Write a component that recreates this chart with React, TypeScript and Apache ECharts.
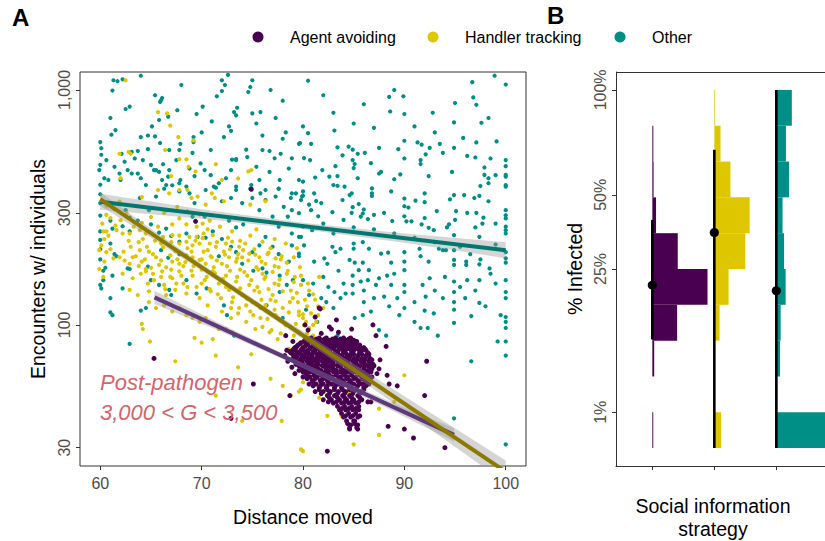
import React, { useEffect, useRef } from "react";
import * as echarts from "echarts";

// ---------- DATA ----------
const strategies = ["Agent avoiding", "Handler tracking", "Other"];
const distanceTicks = [60, 70, 80, 90, 100];
const encounterTicks = [30, 100, 300, 1000];
const infectedTicks = [1, 25, 50, 100];

// [distance moved, encounters]
const otherPoints: number[][] = [
  [61.3,1100],[61.7,1090],[62.2,1110],[61.2,995],[72.0,1100],[72.3,1050],[72.6,1160],[75.0,1100],[74.8,1030],[74.6,980],[76.8,1000],
  [65.4,950],[66.0,905],[66.1,925],[65.9,890],[71.5,940],[72.0,990],[70.1,850],[73.5,840],
  [62.5,830],[62.9,850],[61.0,760],[67.6,820],[69.5,790],[71.0,735],[73.2,805],[73.4,780],[75.0,795],[75.8,805],[77.3,760],[75.4,720],
  [65.8,745],[66.7,770],[65.1,700],
  [61.1,645],[61.5,675],[64.0,630],[64.7,640],[65.4,635],[69.2,630],[72.2,630],[72.9,670],[72.7,700],[78.3,660],[78.0,620],[79.6,590],
  [65.9,595],[67.9,590],[69.2,600],[60.1,565],[60.1,530],[62.1,535],[63.1,545],[63.7,550],[64.7,560],[66.8,555],[67.8,555],[69.1,540],[70.9,555],[73.0,505],[73.4,508],[74.4,557],[74.5,518],[76.0,555],[76.7,550],[77.2,512],[78.9,512],[77.8,535],
  [60.6,503],[61.4,471],[62.4,495],[63.4,511],[64.2,503],[65.0,480],[65.3,456],[66.2,483],[66.8,456],[66.7,428],[67.5,503],[68.8,463],[69.3,430],[69.9,487],[70.3,456],[70.9,434],[72.4,421],[72.9,456],[73.4,503],[75.4,471],[75.7,414],[76.7,448],[77.7,414],[78.6,463],[79.6,414],[59.9,456],[60.4,421],[60.8,414],[61.9,441],[62.7,456],[63.7,441],[64.0,421],[64.5,394],[65.8,448],[66.5,394],[67.8,401],[68.5,388],[71.2,388],[71.7,401],[73.4,388],[74.9,394],[76.3,375],[77.6,380],[78.9,363],[79.9,352],
  [60.0,330],[60.0,292],[61.0,278],[61.2,257],[61.0,222],[61.4,200],[62.2,263],[62.9,250],[63.7,278],[65.0,268],[65.8,247],[66.5,257],[67.0,239],[67.8,226],[66.0,208],[66.7,193],[67.8,200],[64.7,177],[62.7,174],[61.6,196],[63.9,347],[65.5,352],[66.3,380],[67.1,393],[67.9,414],[67.8,370],[68.8,363],[69.3,330],[70.4,375],[71.4,384],[72.0,336],[72.9,347],[73.4,375],[74.0,330],[74.8,380],[75.0,347],[75.8,363],[76.3,340],[77.3,352],[77.6,380],[78.8,347],[79.3,363],[79.8,340],[78.1,318],[78.9,308],[79.6,299],[75.7,308],[77.0,289],[78.5,289],[77.6,262],[78.9,245],[79.6,237],[76.3,237],[75.7,218],[75.0,204],[77.0,215],[77.6,200],[78.9,218],[79.6,201],[78.6,186],[72.7,278],[73.4,260],[74.1,268],[71.1,250],[70.4,235],[72.0,232],[72.9,215],[73.4,204],[71.7,196],[74.0,182],[76.0,174],[69.6,237],[68.5,245],[62.9,286],[62.5,308],[64.8,308],[66.5,308],[69.1,289],[70.3,289],[66.1,414],[65.5,456],[63.1,441],[62.0,414],
  [80.5,1095],[98.9,1150],[96.7,1080],[100,1055],[88.5,935],[89.9,940],[88.6,810],[90,790],[92.8,800],[96.8,930],[97.1,865],[97.6,725],[98.3,760],[94.9,728],[83.1,672],[80.5,655],[95.8,625],[79.7,595],[80.8,590],[83.4,570],[84.5,574],[84.9,557],[85.4,535],[86.1,540],[87.5,567],[89.4,560],[90,608],[91.3,598],[91.7,585],[92.5,567],[93.5,590],[94.9,567],[97.1,598],[99.1,604],[100,503],[83.9,527],[80.1,513],[80.7,503],[83.2,474],[84.9,503],[85.1,484],[85,465],[86.7,488],[87.5,441],[87.7,448],[90,511],[91.6,503],[91.6,484],[92.1,532],[93.8,540],[96.2,524],[97,516],[98.5,511],[97.9,468],[100,474],[100,435],[100,428],[100,394],[100,388],[97.9,435],[98.3,421],[99,434],[98.3,401],[97.5,390],[94.7,448],[92.4,430],[89.6,437],[88.7,370],[89,417],[81.9,456],[81.2,424],[82.6,428],[83.4,430],[84.1,388],[83,394],[83.4,391],[84.6,357],[84.8,363],[85.4,421],[86.8,381],[86.8,363],[86.8,354],[80,407],[80,370],[80,355],[81.1,363],[81.3,337],[81.8,330],[80.6,325],[80.8,308],[83.9,340],[82.9,302],[84.9,317],[84.8,300],[85.5,327],[85.9,298],[85.7,289],[86.4,282],[87,294],[90,345],[90,320],[90.4,316],[91.1,338],[92,363],[92,333],[93.2,305],[94.5,342],[94.9,357],[95.1,305],[96.2,300],[95.9,357],[96.9,347],[97.4,354],[97.1,300],[98.3,336],[100,308],[100,293],[100,284],[100,262],[100,253],[100,245],[97.8,286],[97.7,270],[88.8,277],[90.2,276],[90.7,276],[91.7,268],[92.4,259],[92.9,253],[94.2,260],[94.4,268],[94.9,241],[97.4,237],[93.8,208],[94.1,208],[94.9,208],[82.9,215],[83.2,204],[83.7,211],[85,222],[85,211],[85.9,225],[86.5,211],[87.7,201],[88.4,203],[88.7,184],[90,204],[90,186],[91.5,211],[91.6,196],[92.4,186],[93.4,211],[94.9,189],[94.9,180],[96.1,186],[96.1,180],[97.4,181],[100,204],[100,192],[100,184],[81.1,186],[82.1,192],[82.4,182],[84.6,189],[85.1,184],[85.9,184],[79.6,196],[80.1,218],[79.8,237],[80.9,253],[80,262],
  [80,155],[81,150],[80.6,134],[81.8,130],[82.3,125],[83.1,138],[83.7,130],[84.2,136],[84.9,162],[84.9,148],[84.9,136],[85.5,171],[85.7,153],[86.4,155],[86.5,171],[87.2,148],[87.5,158],[88,132],[88.3,162],[88.7,148],[89,165],[89.3,130],[90,171],[90,148],[90,138],[90,118],[91,103],[91.6,97],[92.3,97],[91.8,148],[92.1,132],[92.9,112],[92.5,158],[93.8,130],[93.3,90],[94.9,153],[94.9,138],[94.9,125],[94.9,116],[94.9,102],[96.2,155],[97.4,155],[97.4,124],[96.6,109],[98.4,174],[99.5,110],[100,155],[100,138],[100,130],[100,108],[100,103],[100,97],[100,85],[100,74],[99.2,85],[96.6,70],[94.9,40],[100,31],[87.5,95],[88.2,90],[85.1,107],[83.4,90],[85.9,110],[86.7,114],[83,118],[81.4,103],[80.3,116],
  [60,148],[60.1,143],[60.3,170],[61.2,162],[62.9,173],[62.2,143],[61,130],[61,113],[61.2,110],[62.9,83],[64,115],[64.5,118],[65,155],[65.8,148],[66.8,141],[67,134],[68.5,155],[69.5,136],[70.5,143],[72.2,121],[72.5,110],[73.2,90],[75.1,170],[76.4,167],[77.7,162],[79,155],[77.7,138],[76.4,121],[78.4,148],[79,85],[78,107],
  [60,600],[60,480],[60,395],[60,360],[60,250],[60,230],[60,210],[60,190],[60.5,175],[60.3,155],
  [82,160],[82.5,145],[83.5,170],[84,150],[86,140],[86,125],[87,130],[88.5,120],[89.5,110],[91,125],[92,115],[93,140],[94,160],[95.5,145],[96,130],[97,140],[98,120],[99,150],[98.5,165],[97.5,190],[96.5,200],[95.5,215],[93,225],[91,235],[89,245],[87,255],[85,260],[83,245],[82,270],[81.5,290],[84,280],[86,310],[88,300],[90,290],[92,285],[95,280],[97,260],[99,270],[99,220],
  [83,800],[85,720],[87,690],[91,700],[93,660],[95,880],[82,950],[86,870],[89,1000],[78,900],[68,1050],[64,1150],[70,660],[76,640],[80,700],
];

const handlerPoints: number[][] = [
  [62.5,1100],[65.7,805],[66.6,795],[66.9,705],[67.7,630],[69.2,610],[61.9,535],[62.8,545],[63.0,535],[66.4,555],[67.8,507],[68.5,507],[71.4,483],[74.6,450],[73.6,420],[62.0,421],[67.0,430],[68.7,471],[69.4,450],[65.7,375],[66.8,363],[67.8,375],[68.6,375],[64.1,350],[69.0,347],[69.6,352],[71.0,363],[71.3,347],[70.4,325],[72.2,336],[74.8,325],[76.3,336],[60.6,294],[62.0,279],[60.3,250],[60.6,250],[61.6,253],[62.2,245],[62.9,245],[63.9,253],[64.5,245],[65.7,262],[67.1,268],[67.8,284],[68.5,268],[69.5,262],[70.1,270],[70.6,255],[71.1,241],[68.8,237],[69.5,237],[70.1,234],[66.2,237],[67.1,241],[67.8,222],[68.5,226],[69.1,218],[69.8,222],[70.8,222],[71.4,215],[72.4,222],[73.0,226],[73.7,215],[74.3,222],[74.7,201],[74.0,194],[73.4,186],[72.7,194],[72.0,182],[71.0,194],[70.4,182],[69.8,189],[69.1,194],[68.5,198],[67.8,182],[67.1,186],[66.5,176],[65.5,194],[64.8,205],[63.9,208],[63.2,194],[62.9,182],[61.9,194],[61.3,192],[60.4,186],[59.9,208],[60.1,218],[60.6,204],[64.1,186],[64.5,173],[65.8,180],[75.7,194],[76.3,182],[77.3,192],[77.6,176],[75.4,176],[74.9,456],[72.0,414],
  [59.9,173],[60.3,160],[62.2,165],[63.2,158],[64.5,169],[64.7,150],[64.8,139],[65.3,155],[66.1,169],[66.3,148],[66.5,134],[67.1,158],[67.4,141],[67.8,169],[68.2,150],[68.5,136],[69.1,162],[69.5,145],[69.8,130],[70.3,155],[70.6,121],[70.9,139],[71.1,169],[71.7,150],[71.9,130],[72.0,114],[72.4,162],[72.7,141],[72.9,107],[73.0,125],[73.4,153],[73.7,118],[74.0,134],[74.4,103],[74.5,162],[74.7,148],[74.8,114],[75.0,125],[75.3,96],[75.7,138],[75.8,107],[76.2,157],[76.3,121],[76.7,93],[77.0,134],[77.3,110],[77.5,87],[77.6,148],[78.0,118],[78.3,99.6],[78.6,79],[79.0,130],[79.1,90],[79.6,110],[79.8,148],[69.3,88],[70.0,84],[71.1,87],[71.4,74],[73.6,66],[74.9,75],[75.6,82],[76.8,59],[78.0,55],[64.1,101],[64.2,96],[64.9,85],[67.4,70],[71.4,50],[74.0,39],[77.9,39],[79.8,29.5],[78.8,50],[79.6,52],[62.9,141],[63.7,134],[64.8,125],[65.5,118],[66.3,121],[67.1,114],[67.8,118],[68.5,110],[69.1,107],[69.8,103],[70.4,107],[71.1,101],[71.7,96],[72.4,96],[73.0,93],
  [79.6,114],[80,107],[80.1,99.6],[80.3,103],[80.6,97],[81.3,103],[81.6,160],[81.5,110],[80,84],[79.8,67],[80,57],[79.8,53],[81.6,49],[82.4,41],[85.1,78],[86.4,68],[90,61],[89,47],[87.5,44],[87.5,34],[85,31],[80,29],[83.8,41],[84.5,51],[80.5,86],[81.1,81],[81.8,73],
  [76.5,200],[77.8,190],[78.5,170],[79.2,160],[76.0,165],[77.2,150],[75.5,145],[78.8,140],[79.5,125],[76.8,128],[73.8,172],[72.5,178],[71.2,176],[70.0,172],[68.2,178],[66.9,160],[65.2,165],[63.8,178],[62.4,188],[61.0,210],[60.4,232],[62.8,228],[64.2,232],[66.0,222],[67.4,206],[69.0,205],[70.6,208],[72.2,205],[73.6,200],[75.2,210],[76.8,212],[80.6,140],[81.2,128],[80.4,120],[82.0,118],[81.0,90],
  [60.2,270],[61.0,285],[60.8,240],[61.5,265],
  [70.2,205],[70.9,196],[71.5,188],[72.3,199],[72.8,210],[73.5,192],[74.1,208],[74.6,188],[75.3,199],[75.9,186],[76.6,203],[77.2,178],[77.9,196],[78.4,184],[79.1,194],[79.7,176],
  [70.5,160],[71.3,166],[72.1,157],[72.8,170],[73.5,160],[74.2,168],[74.9,155],[75.6,172],[76.3,160],[77.0,168],[77.7,156],[78.4,165],[79.1,152],[79.8,162],
  [70.8,142],[71.6,135],[72.4,145],[73.1,131],[73.8,143],[74.5,129],[75.2,140],[75.9,128],[76.6,142],[77.3,126],[78.0,139],[78.7,125],[79.4,137],
  [72.9,118],[73.6,112],[74.4,121],[75.1,110],[75.8,118],[76.5,106],[77.2,116],[77.9,104],[78.6,113],[79.3,101],[80.0,111],
  [76.0,98],[76.9,95],[77.8,92],[78.9,97],[79.6,93],[80.4,92],[81.0,100],[80.8,112],[81.5,120],[81.0,135],[80.2,128],[80.5,150],
  [63.0,215],[63.8,225],[64.6,215],[65.4,228],[66.2,214],[67.0,225],[67.8,240],[68.6,212],[69.4,228],[70.2,245],
  [62.3,205],[63.5,196],[64.4,190],[65.2,200],[66.0,188],[66.9,198],[67.6,190],[68.4,185],[69.2,178],[70.0,190],
  [64.0,165],[65.0,175],[66.0,160],[67.0,172],[68.0,162],[69.0,170],[70.0,150],[68.6,145],[67.5,150],[66.4,142],
  [71.5,225],[72.6,235],[73.8,228],[74.8,240],[76.0,226],[77.2,232],[78.3,222],[79.4,212],[75.4,255],[73.0,250],[71.8,262],[70.8,278],[69.8,295],[68.6,305],[67.6,318],[66.3,300],[65.0,288],[64.1,272],[63.3,262],[62.6,298],[61.4,310],[60.6,322],[61.9,335],[63.6,320],
];

const agentPoints: number[][] = [
  [81.6,118],[83.3,105],[82.8,96],[86.9,100],[87.2,90],[88.2,81],[87.6,71],[88.3,61],[89.3,55],[88.5,56],[87.5,65],[87.3,62],[92.2,70],[92.0,50],[88.4,37],[90.0,36],[90.9,33],[94.0,30],[82.4,29],[80.3,88],[81.7,117],[86.2,78],[87.0,67],[86.7,47],[86.4,47],[85.4,36],[84.6,36],[85.1,39],[65.3,72],[78.7,50],[72.9,40],[75.1,56],[78.3,90],[79.0,85],[79.3,80],[74.9,378],[69.4,276],[80.5,95],[81.8,92],[82.6,98],[83.5,93],[80.2,100],[84.8,96],[81.2,108],
  [78.2,74],[78.5,70],[78.4,78],[78.9,66],[79.2,62],
  [80.8,88],[81.6,88],[82.3,88],[83.2,88],[84.0,88],[84.7,88],
  [80.5,87],[81.3,87],[82.1,87],[82.9,87],[83.7,87],[84.5,87],
  [80.2,86],[81.0,86],[81.8,86],[82.6,86],[83.4,86],[84.2,86],[85.0,86],
  [80.1,85],[80.9,85],[81.6,85],[82.4,85],[83.2,85],[84.0,85],[84.7,85],[85.3,85],
  [79.8,84],[80.5,84],[81.2,84],[82.0,84],[82.8,84],[83.6,84],[84.3,84],[85.1,84],
  [79.7,83],[80.5,83],[81.4,83],[82.2,83],[82.9,83],[83.7,83],[84.4,83],[85.2,83],
  [79.5,82],[80.3,82],[81.0,82],[81.8,82],[82.5,82],[83.3,82],[84.0,82],[84.8,82],[85.6,82],
  [79.4,81],[80.2,81],[81.0,81],[81.8,81],[82.5,81],[83.2,81],[84.0,81],[84.8,81],[85.6,81],
  [79.2,80],[80.0,80],[80.7,80],[81.4,80],[82.1,80],[82.9,80],[83.6,80],[84.4,80],[85.2,80],[86.0,80],
  [79.1,79],[79.9,79],[80.7,79],[81.5,79],[82.3,79],[83.0,79],[83.8,79],[84.6,79],[85.4,79],[86.1,79],
  [79.0,78],[79.8,78],[80.5,78],[81.2,78],[82.0,78],[82.7,78],[83.5,78],[84.2,78],[85.0,78],[85.8,78],
  [78.7,77],[79.4,77],[80.2,77],[81.0,77],[81.7,77],[82.4,77],[83.2,77],[84.0,77],[84.8,77],[85.6,77],
  [78.8,76],[79.6,76],[80.3,76],[81.0,76],[81.8,76],[82.5,76],[83.2,76],[84.0,76],[84.8,76],[85.6,76],[86.4,76],
  [79.0,75],[79.8,75],[80.6,75],[81.4,75],[82.1,75],[82.8,75],[83.5,75],[84.3,75],[85.0,75],[85.8,75],[86.5,75],
  [79.3,74],[80.1,74],[80.9,74],[81.6,74],[82.4,74],[83.1,74],[83.8,74],[84.6,74],[85.4,74],[86.2,74],
  [79.4,73],[80.2,73],[80.9,73],[81.7,73],[82.4,73],[83.1,73],[83.9,73],[84.6,73],[85.4,73],[86.2,73],
  [79.0,72],[79.8,72],[80.5,72],[81.3,72],[82.0,72],[82.7,72],[83.5,72],[84.2,72],[85.0,72],[85.8,72],[86.6,72],
  [79.2,71],[80.0,71],[80.8,71],[81.5,71],[82.3,71],[83.0,71],[83.8,71],[84.5,71],[85.3,71],[86.1,71],[86.8,71],
  [79.6,70],[80.4,70],[81.1,70],[81.9,70],[82.6,70],[83.4,70],[84.1,70],[84.9,70],[85.7,70],[86.5,70],
  [79.8,69],[80.6,69],[81.4,69],[82.1,69],[82.9,69],[83.6,69],[84.4,69],[85.1,69],[85.9,69],[86.7,69],
  [79.3,68],[80.0,68],[80.8,68],[81.5,68],[82.3,68],[83.0,68],[83.8,68],[84.5,68],[85.3,68],[86.1,68],[86.9,68],
  [79.6,67],[80.4,67],[81.1,67],[81.9,67],[82.6,67],[83.4,67],[84.2,67],[84.9,67],[85.6,67],[86.4,67],
  [79.9,66],[80.7,66],[81.4,66],[82.2,66],[82.9,66],[83.7,66],[84.4,66],[85.2,66],[86.0,66],[86.7,66],
  [80.0,65],[80.8,65],[81.5,65],[82.3,65],[83.0,65],[83.8,65],[84.5,65],[85.3,65],[86.0,65],[86.8,65],
  [79.6,64],[80.4,64],[81.1,64],[81.8,64],[82.6,64],[83.3,64],[84.1,64],[84.8,64],[85.6,64],[86.4,64],
  [80.0,63],[80.7,63],[81.5,63],[82.2,63],[83.0,63],[83.7,63],[84.4,63],[85.2,63],[86.0,63],[86.7,63],
  [80.3,62],[81.1,62],[81.8,62],[82.5,62],[83.3,62],[84.0,62],[84.8,62],[85.6,62],[86.3,62],
  [80.4,61],[81.1,61],[81.8,61],[82.6,61],[83.3,61],[84.1,61],[84.8,61],[85.6,61],[86.4,61],
  [80.0,60],[80.7,60],[81.4,60],[82.2,60],[82.9,60],[83.7,60],[84.4,60],[85.2,60],[86.0,60],[86.8,60],
  [80.4,59],[81.2,59],[82.0,59],[82.8,59],[83.5,59],[84.3,59],[85.0,59],[85.8,59],[86.6,59],
  [80.9,58],[81.7,58],[82.4,58],[83.1,58],[83.9,58],[84.6,58],[85.4,58],[86.1,58],
  [81.0,57],[81.8,57],[82.5,57],[83.2,57],[84.0,57],[84.7,57],[85.5,57],[86.2,57],
  [80.6,56],[81.3,56],[82.0,56],[82.8,56],[83.5,56],[84.3,56],[85.0,56],[85.8,56],[86.5,56],
  [81.0,55],[81.7,55],[82.4,55],[83.2,55],[83.9,55],[84.7,55],[85.4,55],[86.2,55],
  [81.6,54],[82.3,54],[83.1,54],[83.8,54],[84.6,54],[85.3,54],[86.0,54],
  [81.6,53],[82.4,53],[83.1,53],[83.9,53],[84.6,53],[85.3,53],[86.0,53],
  [81.2,52],[82.0,52],[82.7,52],[83.5,52],[84.2,52],[85.0,52],[85.7,52],
  [81.8,51],[82.6,51],[83.4,51],[84.1,51],[84.9,51],[85.6,51],
  [82.4,50],[83.1,50],[83.9,50],[84.6,50],[85.4,50],
  [82.6,49],[83.4,49],[84.1,49],[84.8,49],[85.6,49],
  [82.0,48],[82.8,48],[83.6,48],[84.3,48],[85.0,48],[85.8,48],
  [82.5,47],[83.3,47],[84.1,47],[84.8,47],[85.5,47],
  [83.0,46.5],[83.8,46.5],[84.5,46.5],[85.2,46.5],
  [83.4,45],[84.1,45],[84.8,45],[85.5,45],
  [83.8,44],[84.5,44],[85.2,44],
  [83.6,43.5],[84.2,43.5],[84.9,43.5],[85.5,43.5],
  [83.8,42],[84.5,42],[85.2,42],
  [84.2,41],[84.9,41],[85.6,41],
  [84.0,40.5],[84.7,40.5],[85.4,40.5],
  [84.3,39],[85.0,39],
  [84.4,38],[85.1,38],
  [84.7,37.5],[85.4,37.5],
  [84.6,36.5],[85.3,36.5],
];

// linear fits (log scale): [distance, encounters] at both ends
const agentFit = [[65.35, 131], [94.9, 34]];
const handlerFit = [[60, 343], [100, 23.7]];
const otherFit = [[60, 334], [100, 208]];
// confidence half-widths (log10 units) along each fit
const agentCI = [[65.35, 0.028], [72, 0.016], [80, 0.011], [88, 0.016], [94.9, 0.028]];
const handlerCI = [[60, 0.028], [66, 0.018], [72, 0.013], [78, 0.015], [84, 0.022], [90, 0.031], [96, 0.041], [100, 0.048]];
const otherCI = [[60, 0.034], [70, 0.02], [80, 0.014], [90, 0.02], [100, 0.034]];

// Panel B: histogram of % infected (sqrt-scaled bins of 0.1, bottom to top), bar length in category units
const agentHist = [0.015, 0, 0.03, 0.40, 0.89, 0.41, 0.06, 0.02, 0.016, 0];
const handlerHist = [0.11, 0, 0, 0.085, 0.23, 0.50, 0.57, 0.26, 0.10, 0.012];
const otherHist = [0.9, 0.015, 0.06, 0.07, 0.15, 0.125, 0.10, 0.205, 0.155, 0.25];
// median and interval (% infected)
const medianInfected = [20.7, 36.2, 19.3];
const lowInfected = [9.2, 0, 0];
const highInfected = [40.6, 69.4, 100];

// ---------- STYLE ----------
const COLORS = ["#4A0050", "#DEC700", "#008F87"];
const LINE_COLORS = ["#5E3A7C", "#8C7A00", "#00786F"];
const FONT = "Liberation Sans, Arial, Helvetica, sans-serif";

const lg = Math.log10;
const sq = (p: number) => Math.sqrt(p / 100);

function fitLog(fit: number[][], x: number) {
  const [x0, y0] = fit[0];
  const [x1, y1] = fit[1];
  return lg(y0) + ((lg(y1) - lg(y0)) * (x - x0)) / (x1 - x0);
}

function bandSeries(fit: number[][], ci: number[][]) {
  const rows = ci.map(([x, h]) => [x, fitLog(fit, x) - h, fitLog(fit, x) + h]);
  return {
    type: "custom",
    xAxisIndex: 0,
    yAxisIndex: 0,
    encode: { x: 0, y: [1, 2] },
    data: rows,
    z: 3,
    renderItem: (params: any, api: any) => {
      if (params.dataIndex !== 0) return null;
      const up = rows.map((r) => api.coord([r[0], r[2]]));
      const lo = rows.map((r) => api.coord([r[0], r[1]])).reverse();
      const cs = params.coordSys;
      return {
        type: "polygon",
        shape: { points: up.concat(lo) },
        style: { fill: "rgba(150,150,150,0.4)" },
        clipPath: { type: "rect", shape: { x: cs.x, y: cs.y, width: cs.width, height: cs.height } },
      };
    },
  };
}

function fitSeries(fit: number[][], color: string) {
  return {
    type: "line",
    xAxisIndex: 0,
    yAxisIndex: 0,
    data: fit.map(([x, y]) => [x, lg(y)]),
    symbol: "none",
    lineStyle: { color, width: 4 },
    z: 4,
    clip: true,
  };
}

function scatter(points: number[][], color: string, size: number) {
  return {
    type: "scatter",
    xAxisIndex: 0,
    yAxisIndex: 0,
    data: points.map(([x, y]) => [x, lg(y)]),
    symbolSize: size,
    itemStyle: { color, opacity: 1 },
    z: 2,
  };
}

const hists = [agentHist, handlerHist, otherHist];
const histRows: number[][] = [];
hists.forEach((h, s) =>
  h.forEach((w, i) => {
    if (w > 0) histRows.push([s + 1, i / 10, (i + 1) / 10, w, s]);
  })
);
const summaryRows = strategies.map((_, s) => [s + 1, sq(lowInfected[s]), sq(highInfected[s]), sq(medianInfected[s])]);

const tickLabel = { color: "#4D4D4D", fontSize: 16, fontFamily: FONT };
const axisLineStyle = { color: "#333", width: 1 };

const option: any = {
  animation: false,
  backgroundColor: "#fff",
  grid: [
    { left: 80, top: 72, width: 446, height: 394, show: true, borderColor: "#333", borderWidth: 1, backgroundColor: "transparent" },
    { left: 616, top: 72, width: 209, height: 394, show: false },
  ],
  xAxis: [
    {
      gridIndex: 0, type: "value", min: 58, max: 102,
      axisLine: { show: false },
      axisTick: { show: true, customValues: distanceTicks, length: 4, lineStyle: { color: "#333" } },
      axisLabel: { ...tickLabel, customValues: distanceTicks, margin: 9 },
      splitLine: { show: false },
    },
    {
      gridIndex: 1, type: "value", min: 0.414, max: 3.785,
      axisLine: { show: true, onZero: false, lineStyle: axisLineStyle },
      axisTick: { show: true, customValues: [1, 2, 3], length: 4, lineStyle: { color: "#333" } },
      axisLabel: { show: false },
      splitLine: { show: false },
    },
  ],
  yAxis: [
    {
      gridIndex: 0, type: "value", min: 1.3992, max: 3.0766,
      axisLine: { show: false },
      axisTick: { show: true, customValues: encounterTicks.map(lg), length: 4, lineStyle: { color: "#333" } },
      axisLabel: {
        ...tickLabel, customValues: encounterTicks.map(lg), rotate: 90, margin: 8,
        formatter: (v: number) => Math.round(Math.pow(10, v)).toLocaleString("en-US"),
      },
      splitLine: { show: false },
    },
    {
      gridIndex: 1, type: "value", min: -0.05, max: 1.05,
      axisLine: { show: true, onZero: false, lineStyle: axisLineStyle },
      axisTick: { show: true, customValues: infectedTicks.map(sq), length: 4, lineStyle: { color: "#333" } },
      axisLabel: {
        ...tickLabel, customValues: infectedTicks.map(sq), rotate: 90, margin: 8,
        formatter: (v: number) => Math.round(v * v * 100) + "%",
      },
      splitLine: { show: false },
    },
  ],
  series: [
    scatter(otherPoints, COLORS[2], 4.2),
    scatter(handlerPoints, COLORS[1], 4.2),
    scatter(agentPoints, COLORS[0], 5),
    bandSeries(otherFit, otherCI),
    fitSeries(otherFit, LINE_COLORS[2]),
    bandSeries(agentFit, agentCI),
    fitSeries(agentFit, LINE_COLORS[0]),
    bandSeries(handlerFit, handlerCI),
    fitSeries(handlerFit, LINE_COLORS[1]),
    {
      type: "custom",
      xAxisIndex: 1,
      yAxisIndex: 1,
      data: histRows,
      encode: { x: 0, y: [1, 2] },
      renderItem: (params: any, api: any) => {
        const tl = api.coord([api.value(0), api.value(2)]);
        const br = api.coord([api.value(0) + api.value(3), api.value(1)]);
        const cs = params.coordSys;
        return {
          type: "rect",
          shape: { x: tl[0], y: tl[1], width: Math.max(br[0] - tl[0], 0.8), height: br[1] - tl[1] },
          style: { fill: COLORS[api.value(4)] },
          clipPath: { type: "rect", shape: { x: cs.x, y: cs.y, width: cs.width + 20, height: cs.height } },
        };
      },
      z: 2,
    },
    {
      type: "custom",
      xAxisIndex: 1,
      yAxisIndex: 1,
      data: summaryRows,
      encode: { x: 0, y: [1, 2, 3] },
      renderItem: (params: any, api: any) => {
        const a = api.coord([api.value(0), api.value(1)]);
        const b = api.coord([api.value(0), api.value(2)]);
        const m = api.coord([api.value(0), api.value(3)]);
        return {
          type: "group",
          children: [
            { type: "line", shape: { x1: a[0], y1: a[1], x2: b[0], y2: b[1] }, style: { stroke: "#000", lineWidth: 2.6 } },
            { type: "circle", shape: { cx: m[0], cy: m[1], r: 4.6 }, style: { fill: "#000" } },
          ],
        };
      },
      z: 5,
    },
  ],
  graphic: [
    { type: "line", shape: { x1: 616, y1: 72.5, x2: 826, y2: 72.5 }, style: { stroke: "#333", lineWidth: 1 } },
    { type: "text", x: 12, y: 17, style: { text: "A", font: `bold 24px ${FONT}`, fill: "#000", verticalAlign: "middle" } },
    { type: "text", x: 547, y: 15, style: { text: "B", font: `bold 24px ${FONT}`, fill: "#000", verticalAlign: "middle" } },
    { type: "circle", shape: { cx: 258, cy: 37, r: 5.5 }, style: { fill: COLORS[0] } },
    { type: "text", x: 290, y: 37, style: { text: strategies[0], font: `16px ${FONT}`, fill: "#000", verticalAlign: "middle" } },
    { type: "circle", shape: { cx: 433, cy: 37, r: 5.5 }, style: { fill: COLORS[1] } },
    { type: "text", x: 465, y: 37, style: { text: strategies[1], font: `16px ${FONT}`, fill: "#000", verticalAlign: "middle" } },
    { type: "circle", shape: { cx: 620, cy: 37, r: 5.5 }, style: { fill: COLORS[2] } },
    { type: "text", x: 652, y: 37, style: { text: strategies[2], font: `16px ${FONT}`, fill: "#000", verticalAlign: "middle" } },
    { type: "text", x: 38, y: 269, rotation: Math.PI / 2, style: { text: "Encounters w/ individuals", font: `19.5px ${FONT}`, fill: "#000", align: "center", verticalAlign: "middle" } },
    { type: "text", x: 303, y: 517, style: { text: "Distance moved", font: `19.5px ${FONT}`, fill: "#000", align: "center", verticalAlign: "middle" } },
    { type: "text", x: 575, y: 269, rotation: Math.PI / 2, style: { text: "% Infected", font: `19.5px ${FONT}`, fill: "#000", align: "center", verticalAlign: "middle" } },
    { type: "text", x: 713, y: 506, style: { text: "Social information", font: `19.5px ${FONT}`, fill: "#000", align: "center", verticalAlign: "middle" } },
    { type: "text", x: 713, y: 529, style: { text: "strategy", font: `19.5px ${FONT}`, fill: "#000", align: "center", verticalAlign: "middle" } },
    { type: "text", x: 100, y: 382, z: 10, style: { text: "Post-pathogen", font: `italic 22px ${FONT}`, fill: "#D5646B", verticalAlign: "middle" } },
    { type: "text", x: 100, y: 412, z: 10, style: { text: "3,000 < G < 3,500", font: `italic 22px ${FONT}`, fill: "#D5646B", verticalAlign: "middle" } },
  ],
};

export default function App() {
  const ref = useRef<HTMLDivElement>(null);
  useEffect(() => {
    document.body.style.margin = "0";
    const chart = echarts.init(ref.current!, null, { renderer: "svg" });
    chart.setOption(option);
    return () => chart.dispose();
  }, []);
  return <div ref={ref} style={{ width: 825, height: 541, overflow: "hidden" }} />;
}
